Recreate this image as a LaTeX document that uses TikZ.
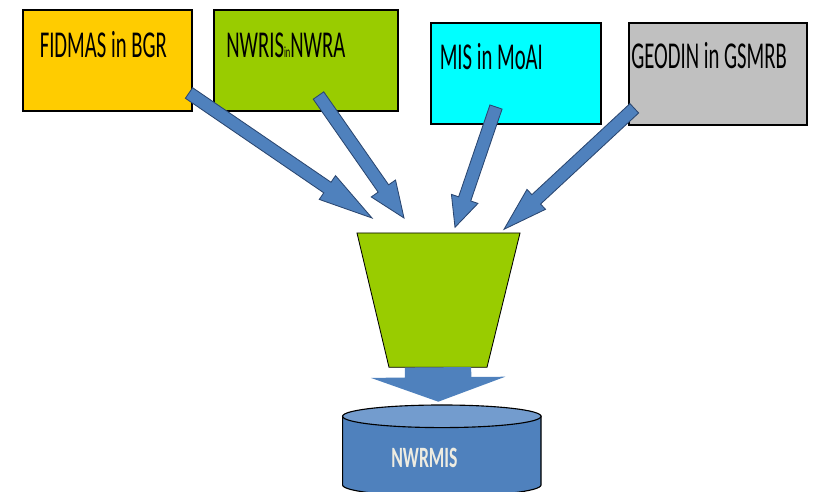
\documentclass[tikz,border=0pt]{standalone}
\usepackage{fontspec}
\setmainfont{Carlito}[FakeStretch=0.545]
\newfontfamily\dbfont{Carlito}[FakeStretch=0.6]
\usetikzlibrary{calc}
\definecolor{bgryellow}{HTML}{FFCC00}
\definecolor{nwragreen}{HTML}{99CC00}
\definecolor{moaicyan}{HTML}{00FFFF}
\definecolor{gsmrbgray}{HTML}{C0C0C0}
\definecolor{arrowblue}{HTML}{4F81BD}
\definecolor{arrowline}{HTML}{2A4670}
\definecolor{dbtopblue}{HTML}{739CCE}
\definecolor{dbtextwhite}{HTML}{EEECE1}
\newcommand{\blockarrow}[6][flow]{%
  \coordinate (hb) at ($(#3)!#6!(#2)$);
  \draw[#1] ($(#2)!#4!90:(#3)$) -- ($(hb)!#4!90:(#3)$) -- ($(hb)!#5!90:(#3)$) -- (#3)
    -- ($(hb)!#5!-90:(#3)$) -- ($(hb)!#4!-90:(#3)$) -- ($(#2)!#4!-90:(#3)$) -- cycle;}

\begin{document}
\begin{tikzpicture}[x=0.025cm,y=-0.025cm]
        \tikzset{srcbox/.style = {shape=rectangle,draw,line width=1pt,minimum height=2.525cm,inner sep=0pt}}
        \tikzset{boxtext/.style = {anchor=base west,inner sep=0pt,font=\fontsize{27}{30}\selectfont}}
        \tikzset{flow/.style = {fill=arrowblue,draw=arrowline,line width=0.6pt,line join=miter}}
        \tikzset{bigflow/.style = {fill=arrowblue,draw=none}}
        \useasboundingbox (0,0) rectangle (818,492);

        \node[srcbox, fill=bgryellow, minimum width=4.225cm] (fidmas) at (107.5,60.5) {};
        \node[srcbox, fill=nwragreen, minimum width=4.6cm] (nwris) at (306,60.5) {};
        \node[srcbox, fill=moaicyan, minimum width=4.25cm] (mis) at (516,73.5) {};
        \node[srcbox, fill=gsmrbgray, minimum width=4.45cm, minimum height=2.55cm] (geodin) at (718,74) {};

        \node[boxtext] (fidmastext) at (39.5,57.5) {FIDMAS in BGR};
        \node[boxtext] (nwristext) at (226,57.3) {NWRIS{\fontsize{11}{12}\selectfont in}NWRA};
        \node[boxtext] (mistext) at (439.5,70) {MIS in MoAI};
        \node[boxtext] (geodintext) at (631,68.3) {GEODIN in GSMRB};

        \filldraw[fill=nwragreen, line width=0.6pt] (357,233) coordinate (funneltl) -- (520,233) coordinate (funneltr)
            -- (487,367.3) coordinate (funnelbr) -- (389,367.3) coordinate (funnelbl) -- cycle;
        \coordinate (funnel) at ($(funnelbl)!0.5!(funnelbr)$);

        \coordinate (fidmastail) at (189,93);
        \coordinate (fidmastip) at (372,218);
        \coordinate (nwristail) at (318.5,95.5);
        \coordinate (nwristip) at (404,218);
        \coordinate (mistail) at (496,107);
        \coordinate (mistip) at (455,227.3);
        \coordinate (geodintail) at (634.3,108.3);
        \coordinate (geodintip) at (504,229.3);

        \blockarrow{fidmastail}{fidmastip}{0.16cm}{0.36cm}{1.35cm}
        \blockarrow{nwristail}{nwristip}{0.16cm}{0.37cm}{0.9cm}
        \blockarrow{mistail}{mistip}{0.16cm}{0.35cm}{0.75cm}
        \blockarrow{geodintail}{geodintip}{0.16cm}{0.34cm}{1.1cm}

        \coordinate (db) at (441.8,416.3);
        \coordinate (dbtip) at (438.3,401.7);
        \blockarrow[bigflow]{funnel}{dbtip}{0.83cm}{1.68cm}{0.61cm}

        \filldraw[fill=arrowblue, line width=0.8pt] (342.6,416.3) -- (342.6,485)
            .. controls (342.6,491.24) and (387.01,496.3) .. (441.8,496.3)
            .. controls (496.59,496.3) and (541,491.24) .. (541,485) -- (541,416.3) -- cycle;
        \filldraw[fill=dbtopblue, line width=0.8pt] (db) ellipse [x radius=2.48cm, y radius=0.2825cm];
        \node[anchor=base west, inner sep=0pt, text=dbtextwhite, font=\dbfont\bfseries\fontsize{21}{24}\selectfont] (nwrmis) at (391,467.8) {NWRMIS};
    \end{tikzpicture}
\end{document}
